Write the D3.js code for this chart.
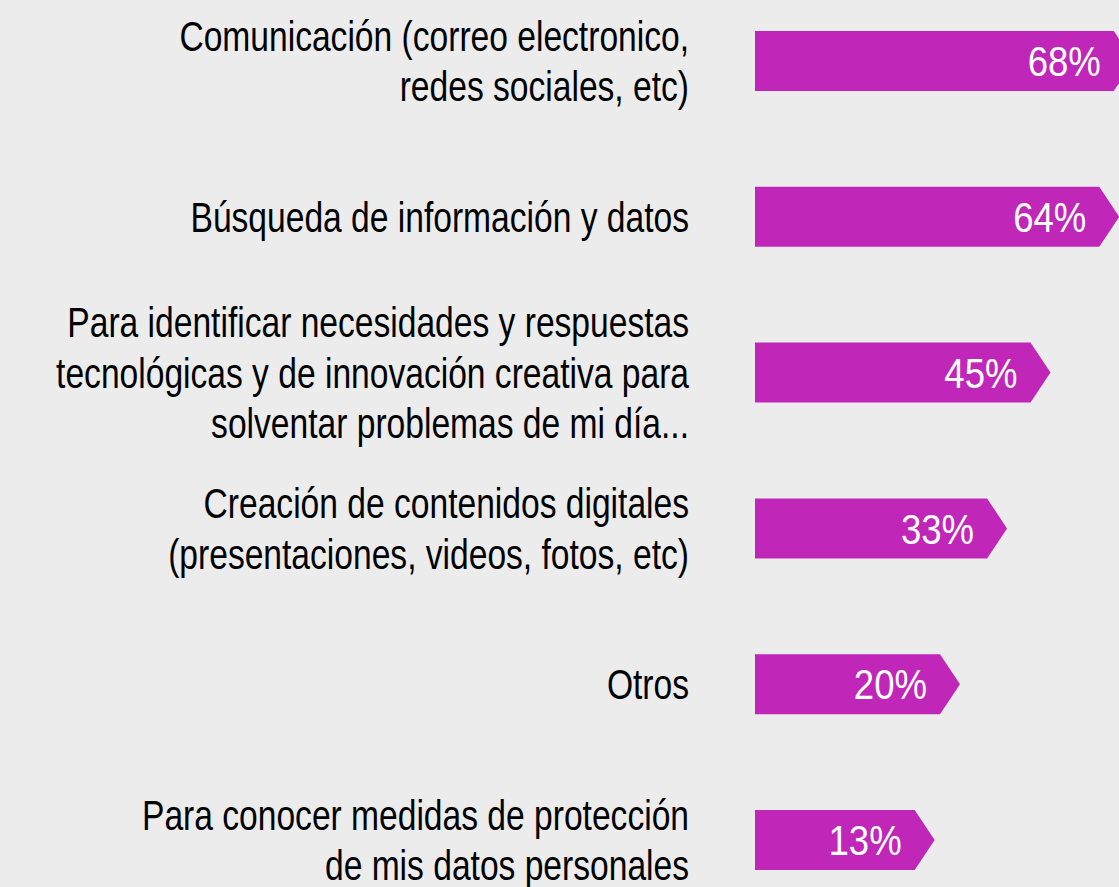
<!DOCTYPE html>
<html>
<head>
<meta charset="utf-8">
<script src="https://cdn.jsdelivr.net/npm/d3@7"></script>
<style>
  html, body { margin: 0; padding: 0; background: #ececec; }
  svg { display: block; }
</style>
</head>
<body>
<svg id="chart" width="1119" height="887"></svg>
<script>
const categories = [
  ["Comunicación (correo electronico,", "redes sociales, etc)"],
  ["Búsqueda de información y datos"],
  ["Para identificar necesidades y respuestas", "tecnológicas y de innovación creativa para", "solventar problemas de mi día..."],
  ["Creación de contenidos digitales", "(presentaciones, videos, fotos, etc)"],
  ["Otros"],
  ["Para conocer medidas de protección", "de mis datos personales"]
];
const values = [68, 64, 45, 33, 20, 13];
const valueLabels = ["68%", "64%", "45%", "33%", "20%", "13%"];

const W = 1119, H = 887;
const barLeft = 755;
const svg = d3.select("#chart");
svg.append("rect").attr("width", W).attr("height", H).attr("fill", "#ececec");

const idx = d3.range(values.length);
const y = d3.scaleBand().domain(idx).range([31, 870]).paddingInner(0.615).paddingOuter(0);
const x = d3.scaleLinear().domain([0, 100]).range([867.6, 1229.6]);
const tip = 20;
const font = "'Liberation Sans Narrow', 'Arial Narrow', 'Liberation Sans', sans-serif";
const catSX = 0.80, valSX = 0.87;

const g = svg.append("g");
idx.forEach(i => {
  const y0 = y(i), h = y.bandwidth(), x1 = x(values[i]);
  const path = d3.path();
  path.moveTo(barLeft, y0);
  path.lineTo(x1, y0);
  path.lineTo(x1 + tip, y0 + h / 2);
  path.lineTo(x1, y0 + h);
  path.lineTo(barLeft, y0 + h);
  path.closePath();
  g.append("path").attr("d", path.toString()).attr("fill", "#c027b9");

  g.append("g")
    .attr("transform", `translate(${x1 - 13},${y0 + h / 2}) scale(${valSX},1)`)
    .append("text")
    .attr("x", 0)
    .attr("y", 0)
    .attr("dy", "0.36em")
    .attr("text-anchor", "end")
    .attr("fill", "#ffffff")
    .style("font-family", font)
    .style("font-size", "42px")
    .text(valueLabels[i]);

  const lines = categories[i];
  const lh = 50.5;
  const cy = y0 + h / 2;
  const t = g.append("g")
    .attr("transform", `translate(689,0) scale(${catSX},1)`)
    .append("text")
    .attr("text-anchor", "end")
    .attr("fill", "#000")
    .style("font-family", font)
    .style("font-size", "42px");
  lines.forEach((ln, k) => {
    t.append("tspan")
      .attr("x", 0)
      .attr("y", cy + (k - (lines.length - 1) / 2) * lh)
      .attr("dy", "0.36em")
      .text(ln);
  });
});
</script>
</body>
</html>
